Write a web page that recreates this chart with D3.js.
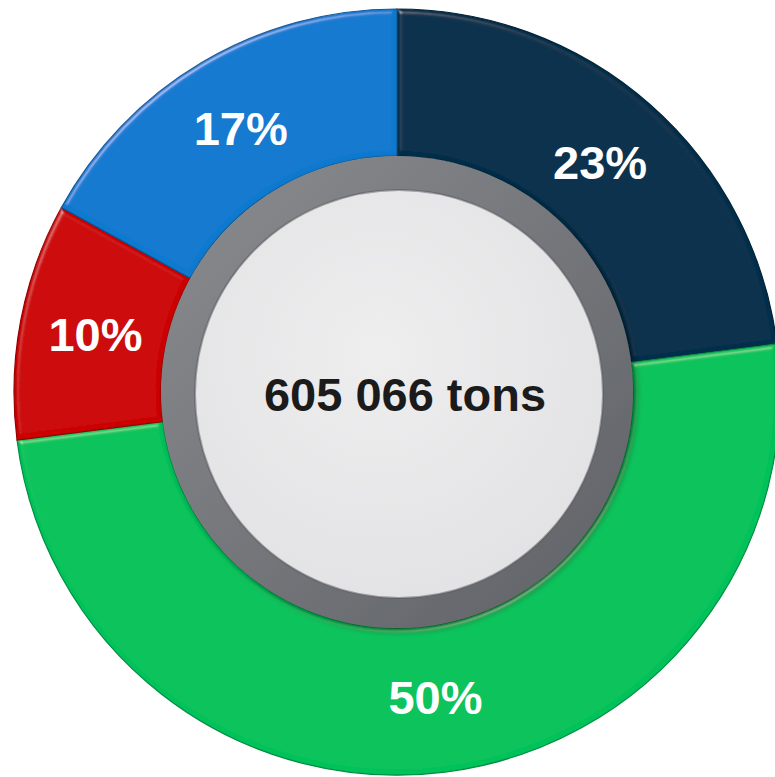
<!DOCTYPE html>
<html>
  <head>
    <script src="https://cdn.jsdelivr.net/npm/d3@7"></script>
    <style type="text/css">
      body {
        margin: 0;
        background: #fff;
        font-family: "Liberation Sans", Arial, sans-serif;
      }
    </style>
  </head>
  <body>
    <script type="text/javascript">
      // chart data
      var categories = ["A", "B", "C", "D"];
      var shares = [23, 50, 10, 17];
      var labels = ["23%", "50%", "10%", "17%"];
      var colors = ["#032f4b", "#00c25a", "#cc0000", "#0a79cf"];
      var centerLabel = "605 066 tons";

      var w = 775,
          h = 777,
          cx = 397,
          cy = 392,
          outerR = 383,
          innerR = 236,
          diskR = 204;

      var svg = d3.select("body").append("svg")
          .attr("width", w)
          .attr("height", h);

      var defs = svg.append("defs");

      // bevel filter for the slices (highlight only on the tilted edges)
      var bevel = defs.append("filter").attr("id", "bevel")
          .attr("x", "-5%").attr("y", "-5%").attr("width", "110%").attr("height", "110%");
      bevel.append("feGaussianBlur").attr("in", "SourceAlpha").attr("stdDeviation", 2.5).attr("result", "blur");
      bevel.append("feSpecularLighting").attr("in", "blur").attr("surfaceScale", 4)
          .attr("specularConstant", 0.9).attr("specularExponent", 35)
          .attr("lighting-color", "#ffffff").attr("result", "spec")
        .append("feDistantLight").attr("azimuth", 235).attr("elevation", 35);
      bevel.append("feComposite").attr("in", "spec").attr("in2", "SourceAlpha")
          .attr("operator", "in").attr("result", "specIn");
      bevel.append("feComposite").attr("in", "SourceGraphic").attr("in2", "specIn")
          .attr("operator", "arithmetic").attr("k1", 0).attr("k2", 1).attr("k3", 0.35).attr("k4", 0);

      // gradient for the gray ring
      var ringGrad = defs.append("linearGradient").attr("id", "ringGrad")
          .attr("x1", "0%").attr("y1", "0%").attr("x2", "100%").attr("y2", "100%");
      ringGrad.append("stop").attr("offset", "0%").attr("stop-color", "#8a8c90");
      ringGrad.append("stop").attr("offset", "100%").attr("stop-color", "#5f6166");

      var diskGrad = defs.append("radialGradient").attr("id", "diskGrad")
          .attr("cx", "45%").attr("cy", "40%").attr("r", "65%");
      diskGrad.append("stop").attr("offset", "0%").attr("stop-color", "#eeeeef");
      diskGrad.append("stop").attr("offset", "100%").attr("stop-color", "#e2e2e4");

      var shadow = defs.append("filter").attr("id", "shadow")
          .attr("x", "-10%").attr("y", "-10%").attr("width", "120%").attr("height", "120%");
      shadow.append("feDropShadow").attr("dx", 3).attr("dy", 3).attr("stdDeviation", 3)
          .attr("flood-color", "#000").attr("flood-opacity", 0.45);

      var data = categories.map(function (c, i) {
        return { name: c, value: shares[i], label: labels[i], color: colors[i] };
      });

      var pie = d3.pie()
          .sort(null)
          .value(function (d) { return d.value; });

      var arc = d3.arc()
          .innerRadius(innerR)
          .outerRadius(outerR);

      var labelArc = d3.arc()
          .innerRadius(307)
          .outerRadius(307);

      var g = svg.append("g")
          .attr("transform", "translate(" + [cx, cy] + ")");

      var arcs = pie(data);

      g.selectAll("path.slice")
          .data(arcs)
          .enter()
          .append("path")
          .attr("class", "slice")
          .attr("d", arc)
          .attr("fill", function (d) { return d.data.color; })
          .attr("stroke", function (d) { return d3.color(d.data.color).darker(0.9); })
          .attr("stroke-width", 1.2)
          .attr("filter", "url(#bevel)");

      // gray ring and light disk
      g.append("circle")
          .attr("r", innerR)
          .attr("fill", "url(#ringGrad)")
          .attr("filter", "url(#shadow)");

      g.append("circle")
          .attr("cx", 2)
          .attr("cy", 2)
          .attr("r", diskR)
          .attr("fill", "url(#diskGrad)")
          .attr("stroke", "#55575b")
          .attr("stroke-opacity", 0.5)
          .attr("stroke-width", 2);

      g.selectAll("text.pct")
          .data(arcs)
          .enter()
          .append("text")
          .attr("class", "pct")
          .attr("transform", function (d) { return "translate(" + labelArc.centroid(d) + ")"; })
          .attr("text-anchor", "middle")
          .attr("dy", "0.36em")
          .attr("fill", "#fff")
          .attr("font-weight", "bold")
          .attr("font-size", 47)
          .text(function (d) { return d.data.label; });

      g.append("text")
          .attr("x", 8)
          .attr("y", 2)
          .attr("dy", "0.36em")
          .attr("text-anchor", "middle")
          .attr("fill", "#1b1b1b")
          .attr("font-weight", "bold")
          .attr("font-size", 47)
          .text(centerLabel);
    </script>
  </body>
</html>
